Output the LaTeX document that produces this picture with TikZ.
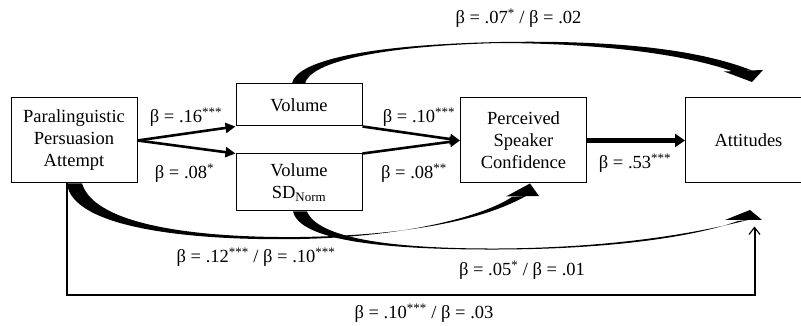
\documentclass[tikz,border=0pt]{standalone}
\usepackage{fontspec}
\setmainfont{Liberation Serif}
\usepackage{tikz}
\usetikzlibrary{arrows.meta,positioning,calc}

\begin{document}
\begin{tikzpicture}[
  x=1pt,y=1pt,
  font=\fontsize{18.5}{22}\selectfont,
  box/.style={draw,line width=1pt,align=center,minimum width=126pt,minimum height=85pt,inner sep=0pt},
  arrow/.style={-{Triangle[length=10pt,width=10pt]},line width=2.6pt},
  bigarrow/.style={-{Triangle[length=10pt,width=13pt]},line width=4.6pt},
  thinarrow/.style={-{Straight Barb[length=7pt,width=11pt,line width=1.2pt]},line width=2pt},
  swoosh/.style={fill=black,draw=none},
  lab/.style={inner sep=0pt}
]
  \useasboundingbox (0,0) rectangle (801,326);
  % boxes
  \node[box] (para) at (74,185.5) {Paralinguistic\\Persuasion\\Attempt};
  \node[box,minimum height=42pt] (vol) at (299,221) {Volume};
  \node[box,minimum height=57pt] (sd) at (299,143.5) {Volume\\SD\textsubscript{Norm}};
  \node[box] (perc) at (523.5,185.5) {Perceived\\Speaker\\Confidence};
  \node[box,right=98pt of perc] (att) {Attitudes};
  % straight paths
  \draw[arrow] (para.east) -- (vol.south west);
  \draw[arrow] (para.east) -- (sd.north west);
  \draw[arrow] (vol.south east) -- (perc.west);
  \draw[arrow] (sd.north east) -- (perc.west);
  \draw[bigarrow] (perc.east) -- (att.west);
  \coordinate (attlow) at ($(att.south)+(6,-43)$);
  \draw[thinarrow] ([xshift=-7pt]para.south) -- ++(0,-112) -| (attlow);
  % curved paths (volume -> attitudes)
  \fill[swoosh] ([xshift=-7pt]vol.north) .. controls (296,264) and (360,281) .. (500,284)
    .. controls (620,286) and (700,276) .. (752,255.5) -- (733,254.5)
    .. controls (690,270) and (610,282.5) .. (500,283)
    .. controls (380,280) and (310,264) .. ([xshift=6pt]vol.north) -- cycle;
  \fill[swoosh] (724,254.5) -- (763,256) -- (752,244) -- cycle;
  % paralinguistic -> confidence
  \fill[swoosh] ([xshift=-7pt]para.south) .. controls (72,98) and (190,85) .. (300,87)
    .. controls (400,89) and (480,108) .. (512,129) -- (526,130)
    .. controls (480,104) and (400,90.5) .. (300,89)
    .. controls (200,88) and (95,100) .. ([xshift=8pt]para.south) -- cycle;
  \fill[swoosh] (506,129.5) -- ([xshift=6.5pt]perc.south) -- (539,130) -- cycle;
  % SD -> attitudes
  \fill[swoosh] ([xshift=-6pt]sd.south) .. controls (300,86) and (380,76) .. (500,76.5)
    .. controls (620,77) and (700,91) .. (738,105) -- (748,106)
    .. controls (700,94) and (620,78.5) .. (500,77.5)
    .. controls (390,77) and (318,88) .. ([xshift=8pt]sd.south) -- cycle;
  \fill[swoosh] (725,106) -- (750,116) -- (762,106) -- cycle;
  % labels
  \node[lab] (l16) at (186,209) {β = .16\textsuperscript{***}};
  \node[lab] (l08) at (184.5,153) {β = .08\textsuperscript{*}};
  \node[lab] (l10) at (419,209) {β = .10\textsuperscript{***}};
  \node[lab] (l08b) at (414,153) {β = .08\textsuperscript{**}};
  \node[lab] (l53) at (635,163) {β = .53\textsuperscript{***}};
  \node[lab] (l07) at (518.5,308) {β = .07\textsuperscript{*} / β = .02};
  \node[lab] (l12) at (256,69) {β = .12\textsuperscript{***} / β = .10\textsuperscript{***}};
  \node[lab] (l05) at (522,56) {β = .05\textsuperscript{*} / β = .01};
  \node[lab] (l10b) at (424,13) {β = .10\textsuperscript{***} / β = .03};
\end{tikzpicture}
\end{document}
